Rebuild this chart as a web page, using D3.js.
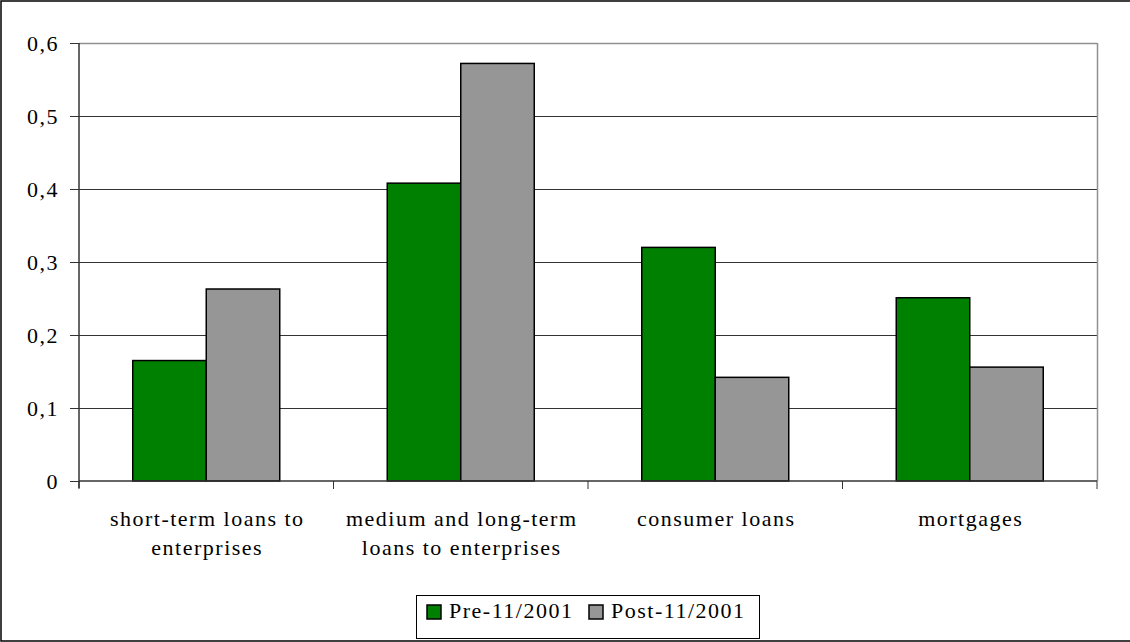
<!DOCTYPE html>
<html><head><meta charset="utf-8">
<script src="https://cdn.jsdelivr.net/npm/d3@7"></script>
<style>body{margin:0;background:#fff}svg{display:block}</style>
</head><body>
<script>
const categories = [["short-term loans to","enterprises"],["medium and long-term","loans to enterprises"],["consumer loans"],["mortgages"]];
const seriesNames = ["Pre-11/2001","Post-11/2001"];
const pre = [0.165, 0.408, 0.320, 0.251];
const post = [0.263, 0.572, 0.142, 0.156];
const yTicks = [0,0.1,0.2,0.3,0.4,0.5,0.6];
const colors = ["#008000","#969696"];
const FONT = "'Liberation Serif'";
const FS = 22, LS = "1.5px";

const W=1130,H=642;
const svg=d3.select("body").append("svg").attr("width",W).attr("height",H);
svg.append("rect").attr("x",1).attr("y",1).attr("width",W+5).attr("height",H-2).attr("fill","none").attr("stroke","#000").attr("stroke-width",1.5);

const L=79,R=1097,T=43,B=481;
const x=d3.scaleBand().domain(d3.range(categories.length)).range([L,R]);
const y=d3.scaleLinear().domain([0,0.6]).range([B,T]);
const barW = 73.5;

svg.append("g").selectAll("line").data(yTicks.filter(t=>t>0)).join("line")
 .attr("x1",L).attr("x2",R).attr("y1",d=>Math.round(y(d))+0.5).attr("y2",d=>Math.round(y(d))+0.5)
 .attr("stroke",d=>d===0.6?"#909090":"#333").attr("stroke-width",d=>d===0.6?1.5:1.2);
svg.append("line").attr("x1",R+0.5).attr("x2",R+0.5).attr("y1",T).attr("y2",B).attr("stroke","#909090").attr("stroke-width",1.5);

const data=[pre,post];
data.forEach((vals,si)=>{
  svg.append("g").selectAll("rect").data(vals).join("rect")
   .attr("x",(d,i)=>x(i)+x.bandwidth()/2-barW+si*barW)
   .attr("y",d=>y(d)).attr("width",barW).attr("height",d=>B-y(d))
   .attr("fill",colors[si]).attr("stroke","#000").attr("stroke-width",1.5);
});

const ya=svg.append("g").attr("transform",`translate(${L},0)`)
 .call(d3.axisLeft(y).tickValues(yTicks).tickSize(9).tickPadding(11).tickFormat(d=>d===0?"0":d3.format(".1f")(d).replace(".",",")));
ya.select(".domain").attr("stroke","#333").attr("d",`M0,${T}V${B+7}`).attr("stroke-width",1.5);
ya.selectAll(".tick line").attr("stroke","#333");
ya.selectAll("text").attr("font-size",FS).style("font-family",FONT).style("letter-spacing",LS).attr("fill","#000");

const xa=svg.append("g").attr("transform",`translate(0,${B})`);
xa.append("line").attr("x1",L).attr("x2",R).attr("y1",0).attr("y2",0).attr("stroke","#333").attr("stroke-width",1.5);
xa.selectAll("line.t").data(d3.range(categories.length+1)).join("line").attr("class","t")
 .attr("x1",i=>L+i*x.bandwidth()).attr("x2",i=>L+i*x.bandwidth()).attr("y1",0).attr("y2",8).attr("stroke","#333");
xa.selectAll("text.c").data(categories).join("text").attr("class","c")
 .attr("text-anchor","middle").attr("font-size",FS).style("font-family",FONT).style("letter-spacing",LS)
 .attr("x",(d,i)=>x(i)+x.bandwidth()/2+1).attr("y",45)
 .selectAll("tspan").data(d=>d).join("tspan")
 .attr("x",function(){return this.parentNode.getAttribute("x");}).attr("dy",(d,i)=>i===0?0:29).text(d=>d);

const lg=svg.append("g");
lg.append("rect").attr("x",416.5).attr("y",595.5).attr("width",343).attr("height",43).attr("fill","#fff").attr("stroke","#000").attr("stroke-width",1);
const legX=[427,589];
seriesNames.forEach((n,i)=>{
  lg.append("rect").attr("x",legX[i]).attr("y",605).attr("width",14).attr("height",14).attr("fill",colors[i]).attr("stroke","#000").attr("stroke-width",1.5);
  lg.append("text").attr("x",legX[i]+22).attr("y",618).attr("font-size",FS).style("font-family",FONT).style("letter-spacing",LS).text(n);
});
</script>
</body></html>
